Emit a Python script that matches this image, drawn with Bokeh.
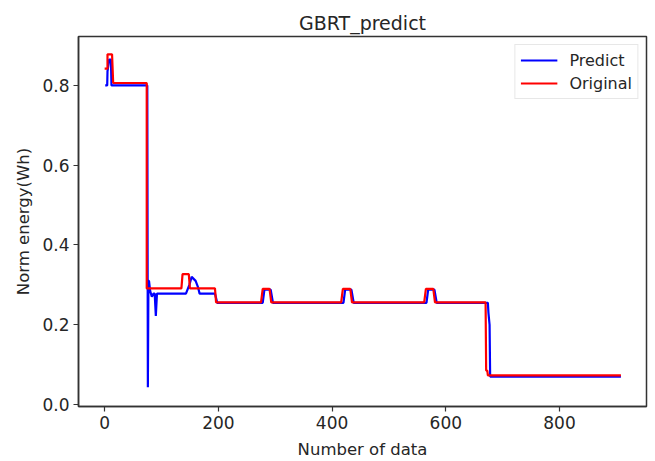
from bokeh.plotting import figure
from bokeh.models import FixedTicker, PrintfTickFormatter, Range1d, Legend, LegendItem
from bokeh.embed import file_html
from bokeh.resources import INLINE

# ---- data ----
orig_x = [0, 5, 5, 13, 15, 74, 74, 135, 137, 148, 150, 194, 196, 275, 278, 290, 293,
          416, 419, 432, 435, 562, 565, 578, 581, 670, 671, 673, 674, 908]
orig_y = [0.842, 0.842, 0.878, 0.878, 0.806, 0.806, 0.291, 0.291, 0.327, 0.327, 0.291,
          0.291, 0.256, 0.256, 0.29, 0.29, 0.256, 0.256, 0.29, 0.29, 0.256, 0.256, 0.29,
          0.29, 0.256, 0.256, 0.085, 0.085, 0.073, 0.073]

pred_x = [1, 4.5, 5, 8, 11, 12, 75, 76, 77, 78, 80, 83, 86, 88, 90, 92, 143, 149, 153,
          160, 164, 167, 194, 198, 278, 281, 292, 296, 420, 423, 434, 438, 566, 569,
          580, 584, 674, 675, 677, 678, 680, 908]
pred_y = [0.80, 0.80, 0.835, 0.865, 0.865, 0.80, 0.80, 0.043, 0.31, 0.31, 0.285, 0.27,
          0.278, 0.278, 0.222, 0.278, 0.278, 0.30, 0.32, 0.31, 0.295, 0.278, 0.278,
          0.255, 0.255, 0.288, 0.288, 0.255, 0.255, 0.288, 0.288, 0.255, 0.255, 0.288,
          0.288, 0.255, 0.255, 0.23, 0.20, 0.07, 0.07, 0.07]

x_ticks = [0, 200, 400, 600, 800]
y_ticks = [0.0, 0.2, 0.4, 0.6, 0.8]

title_text = "GBRT_predict"
x_label = "Number of data"
y_label = "Norm energy(Wh)"
series_names = ["Predict", "Original"]

FONT = "DejaVu Sans"
TXT = "#262626"

p = figure(width=655, height=461, output_backend="svg", toolbar_location=None,
           x_range=Range1d(-46, 953), y_range=Range1d(-0.005, 0.9226),
           min_border_left=78, min_border_right=9, min_border_top=36, min_border_bottom=55)

p.title.text = title_text
p.title.align = "center"
p.title.text_font = FONT
p.title.text_font_size = "19px"
p.title.text_font_style = "normal"
p.title.text_color = TXT
p.title.offset = 0
p.title.standoff = 6

r_pred = p.line(pred_x, pred_y, line_color="blue", line_width=2.2)
r_orig = p.line(orig_x, orig_y, line_color="red", line_width=2.2)

p.xgrid.visible = False
p.ygrid.visible = False
p.outline_line_color = "#333333"
p.outline_line_width = 1.5
p.background_fill_color = "white"
p.border_fill_color = "white"

p.xaxis.ticker = FixedTicker(ticks=x_ticks)
p.yaxis.ticker = FixedTicker(ticks=y_ticks)
p.yaxis.formatter = PrintfTickFormatter(format="%.1f")
for ax in (p.xaxis[0], p.yaxis[0]):
    ax.axis_line_color = "#333333"
    ax.axis_line_width = 1.5
    ax.major_tick_line_color = "#333333"
    ax.major_tick_line_width = 1.2
    ax.major_tick_out = 5
    ax.major_tick_in = 0
    ax.minor_tick_line_color = None
    ax.major_label_text_font = FONT
    ax.major_label_text_font_size = "17px"
    ax.major_label_text_color = TXT
    ax.major_label_standoff = 4
    ax.axis_label_text_font = FONT
    ax.axis_label_text_font_size = "16.5px"
    ax.axis_label_text_font_style = "normal"
    ax.axis_label_text_color = TXT
p.xaxis.axis_label = x_label
p.yaxis.axis_label = y_label
p.xaxis.axis_label_standoff = 8
p.yaxis.axis_label_standoff = 6

legend = Legend(items=[LegendItem(label=series_names[0], renderers=[r_pred]),
                       LegendItem(label=series_names[1], renderers=[r_orig])],
                location="top_right", margin=8, padding=5, spacing=3,
                glyph_width=37, glyph_height=20, label_height=20, label_standoff=12,
                border_line_color="#d0d0d0", border_line_width=1,
                label_text_font=FONT, label_text_font_size="16px", label_text_color=TXT,
                background_fill_alpha=0.9)
p.add_layout(legend)

open("out.html", "w").write(file_html(p, INLINE))
